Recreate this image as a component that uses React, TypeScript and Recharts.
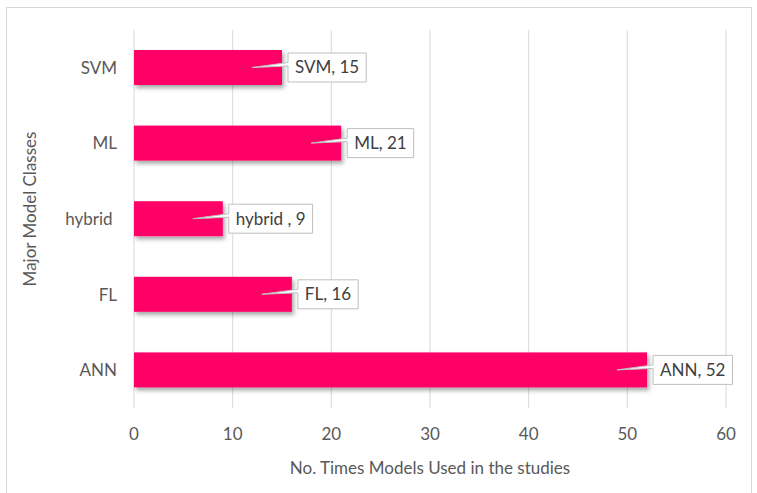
import React from "react";
import { BarChart, Bar, XAxis, YAxis, CartesianGrid, LabelList, Label } from "recharts";

const categories = ["SVM", "ML", "hybrid ", "FL", "ANN"];
const values = [15, 21, 9, 16, 52];
const xTicks = [0, 10, 20, 30, 40, 50, 60];

const data = categories.map((c, i) => ({ name: c, value: values[i] }));

const FONT = "Lato, 'Noto Sans', sans-serif";
const FS = 17;

let canvas: HTMLCanvasElement | null = null;
function measure(t: string): number {
  if (!canvas) canvas = document.createElement("canvas");
  const ctx = canvas.getContext("2d")!;
  ctx.font = `${FS}px Lato`;
  return ctx.measureText(t).width;
}

const Callout = (props: any) => {
  const { x, y, width, height, index } = props;
  const text = `${categories[index]}, ${values[index]}`;
  const cy = y + height / 2;
  const tw = measure(text);
  const left = x + width + 6;
  const bw = tw + 14;
  const bh = 29;
  const top = cy - bh / 2;
  const tipX = x + width - 30;
  const d = `M${left},${top} H${left + bw} V${top + bh} H${left} V${cy - 1.5} L${tipX},${cy} L${left},${cy - 5} Z`;
  return (
    <g>
      <path d={d} fill="#ffffff" stroke="#bfbfbf" strokeWidth={1} />
      <text x={left + 7} y={cy} dy="0.35em" fontSize={FS} fontFamily={FONT} fill="#404040" style={{ whiteSpace: "pre" }}>
        {text}
      </text>
    </g>
  );
};

const YTick = (props: any) => {
  const { x, y, payload } = props;
  return (
    <text x={x} y={y} dy="0.35em" textAnchor="end" fontSize={FS} fontFamily={FONT} fill="#595959" style={{ whiteSpace: "pre" }}>
      {payload.value}
    </text>
  );
};

const ShadowBar = (props: any) => {
  const { x, y, width, height, fill } = props;
  return <rect x={x} y={y} width={width} height={height} fill={fill} filter="url(#barShadow)" />;
};

export default function App() {
  return (
    <div style={{ position: "fixed", left: 0, top: 0, width: 757, height: 493, background: "#fff" }}>
      <div style={{ position: "absolute", left: 6, top: 7, width: 746, height: 490, border: "1px solid #d9d9d9", boxSizing: "border-box" }} />
      <div style={{ position: "absolute", left: 0, top: 0 }}>
        <BarChart
          width={757}
          height={493}
          data={data}
          layout="vertical"
          margin={{ top: 30, right: 31, left: 0, bottom: 55 }}
          barSize={35}
        >
          <defs>
            <filter id="barShadow" x="-10%" y="-20%" width="130%" height="160%">
              <feDropShadow dx="2" dy="3" stdDeviation="2" floodColor="#000" floodOpacity="0.35" />
            </filter>
          </defs>
          <CartesianGrid horizontal={false} stroke="#d9d9d9" strokeWidth={1} />
          <XAxis
            type="number"
            domain={[0, 60]}
            ticks={xTicks}
            axisLine={false}
            tickLine={false}
            tickMargin={14}
            height={30}
            tick={{ fontSize: FS, fontFamily: FONT, fill: "#595959" }}
          >
            <Label
              content={(p: any) => {
                const vb = p.viewBox;
                return (
                  <text x={vb.x + vb.width / 2} y={vb.y + 60} textAnchor="middle" dy="0.35em" fontSize={FS} fontFamily={FONT} fill="#595959">
                    No. Times Models Used in the studies
                  </text>
                );
              }}
            />
          </XAxis>
          <YAxis
            type="category"
            dataKey="name"
            width={134}
            axisLine={false}
            tickLine={false}
            tickMargin={11}
            tick={<YTick />}
          >
            <Label
              content={(p: any) => {
                const vb = p.viewBox;
                const cx = vb.x + 30;
                const cy = vb.y + vb.height / 2 - 10;
                return (
                  <text x={cx} y={cy} textAnchor="middle" dy="0.35em" fontSize={FS} fontFamily={FONT} fill="#595959" transform={`rotate(-90 ${cx} ${cy})`}>
                    Major Model Classes
                  </text>
                );
              }}
            />
          </YAxis>
          <Bar dataKey="value" fill="#FF0066" isAnimationActive={false} shape={<ShadowBar />}>
            <LabelList dataKey="value" content={<Callout />} />
          </Bar>
        </BarChart>
      </div>
    </div>
  );
}
